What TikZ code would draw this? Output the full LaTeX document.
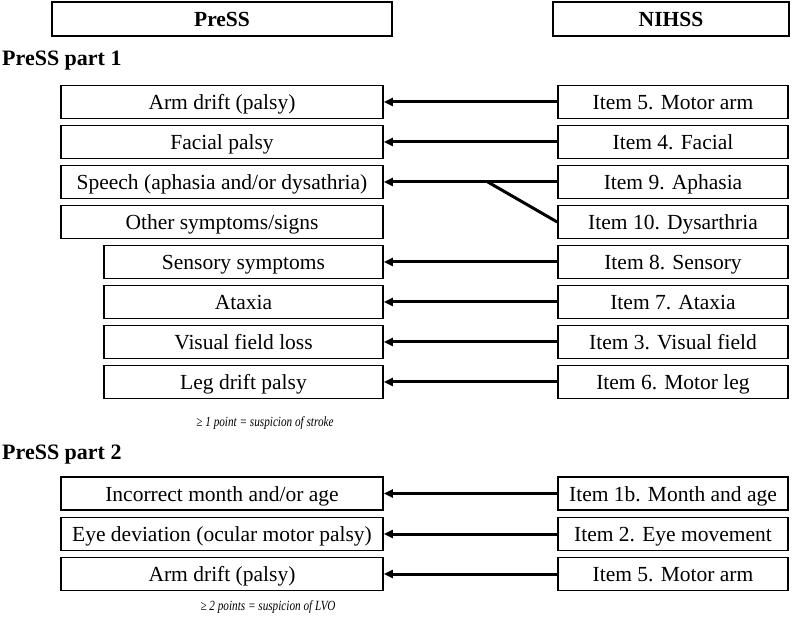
\documentclass[tikz,border=0pt]{standalone}
\usepackage{fontspec}
\setmainfont{Liberation Serif}
\usetikzlibrary{arrows.meta}

\begin{document}
\begin{tikzpicture}[
  x=1pt, y=1pt,
  node distance=40pt,
  every node/.style={font=\fontsize{21.5}{24}\selectfont},
  headbox/.style={rectangle, draw=black, line width=1.6pt, minimum height=34pt, inner sep=0pt, text height=17pt, text depth=2pt, font=\fontsize{21.5}{24}\selectfont\bfseries},
  pressbox/.style={rectangle, draw=black, line width=1.6pt, minimum width=322pt, minimum height=33pt, inner sep=0pt, text height=17pt, text depth=2pt},
  subbox/.style={pressbox, minimum width=279pt},
  nihssbox/.style={rectangle, draw=black, line width=1.6pt, minimum width=230pt, minimum height=33pt, inner sep=0pt, text height=17pt, text depth=2pt},
  partlabel/.style={anchor=west, inner sep=0pt, font=\fontsize{22}{24}\selectfont\bfseries},
  note/.style={inner sep=0pt, font=\fontsize{14}{16}\selectfont\itshape, xscale=0.8, transform shape},
  arrow/.style={-{Triangle[length=9pt,width=8pt]}, line width=3pt},
  link/.style={line width=3pt}
]
\useasboundingbox (0,0) rectangle (797,624);

% Headers
\node[headbox, minimum width=340pt] (press) at (222,605) {PreSS};
\node[headbox, minimum width=236pt] (nihss) at (671,605) {NIHSS};

% PreSS part 1
\node[partlabel] (part1) at (2,563) {PreSS part 1};

\node[pressbox] (arm) at (222,522) {Arm drift (palsy)};
\node[pressbox, below of=arm] (facial) {Facial palsy};
\node[pressbox, below of=facial] (speech) {Speech (aphasia and/or dysathria)};
\node[pressbox, below of=speech] (other) {Other symptoms/signs};
\node[subbox, below of=other, xshift=21.5pt] (sensory) {Sensory symptoms};
\node[subbox, below of=sensory] (ataxia) {Ataxia};
\node[subbox, below of=ataxia] (visual) {Visual field loss};
\node[subbox, below of=visual] (leg) {Leg drift palsy};

\node[nihssbox] (item5) at (673,522) {Item 5. Motor arm};
\node[nihssbox, below of=item5] (item4) {Item 4. Facial};
\node[nihssbox, below of=item4] (item9) {Item 9. Aphasia};
\node[nihssbox, below of=item9] (item10) {Item 10. Dysarthria};
\node[nihssbox, below of=item10] (item8) {Item 8. Sensory};
\node[nihssbox, below of=item8] (item7) {Item 7. Ataxia};
\node[nihssbox, below of=item7] (item3) {Item 3. Visual field};
\node[nihssbox, below of=item3] (item6) {Item 6. Motor leg};

\draw[arrow] (item5) -- (arm);
\draw[arrow] (item4) -- (facial);
\draw[arrow] (item9) -- coordinate[pos=0.4] (join) (speech);
\draw[link] (item10.west) -- (join);
\draw[arrow] (item8) -- (sensory);
\draw[arrow] (item7) -- (ataxia);
\draw[arrow] (item3) -- (visual);
\draw[arrow] (item6) -- (leg);

\node[note] (note1) at (265,201) {≥ 1 point = suspicion of stroke};

% PreSS part 2
\node[partlabel] (part2) at (2,169) {PreSS part 2};

\node[pressbox] (month) at (222,130.5) {Incorrect month and/or age};
\node[pressbox, below of=month, node distance=40.5pt] (eye) {Eye deviation (ocular motor palsy)};
\node[pressbox, below of=eye] (arm2) {Arm drift (palsy)};

\node[nihssbox] (item1b) at (673,130.5) {Item 1b. Month and age};
\node[nihssbox, below of=item1b, node distance=40.5pt] (item2) {Item 2. Eye movement};
\node[nihssbox, below of=item2] (item5b) {Item 5. Motor arm};

\draw[arrow] (item1b) -- (month);
\draw[arrow] (item2) -- (eye);
\draw[arrow] (item5b) -- (arm2);

\node[note] (note2) at (268,17) {≥ 2 points = suspicion of LVO};

\end{tikzpicture}
\end{document}
